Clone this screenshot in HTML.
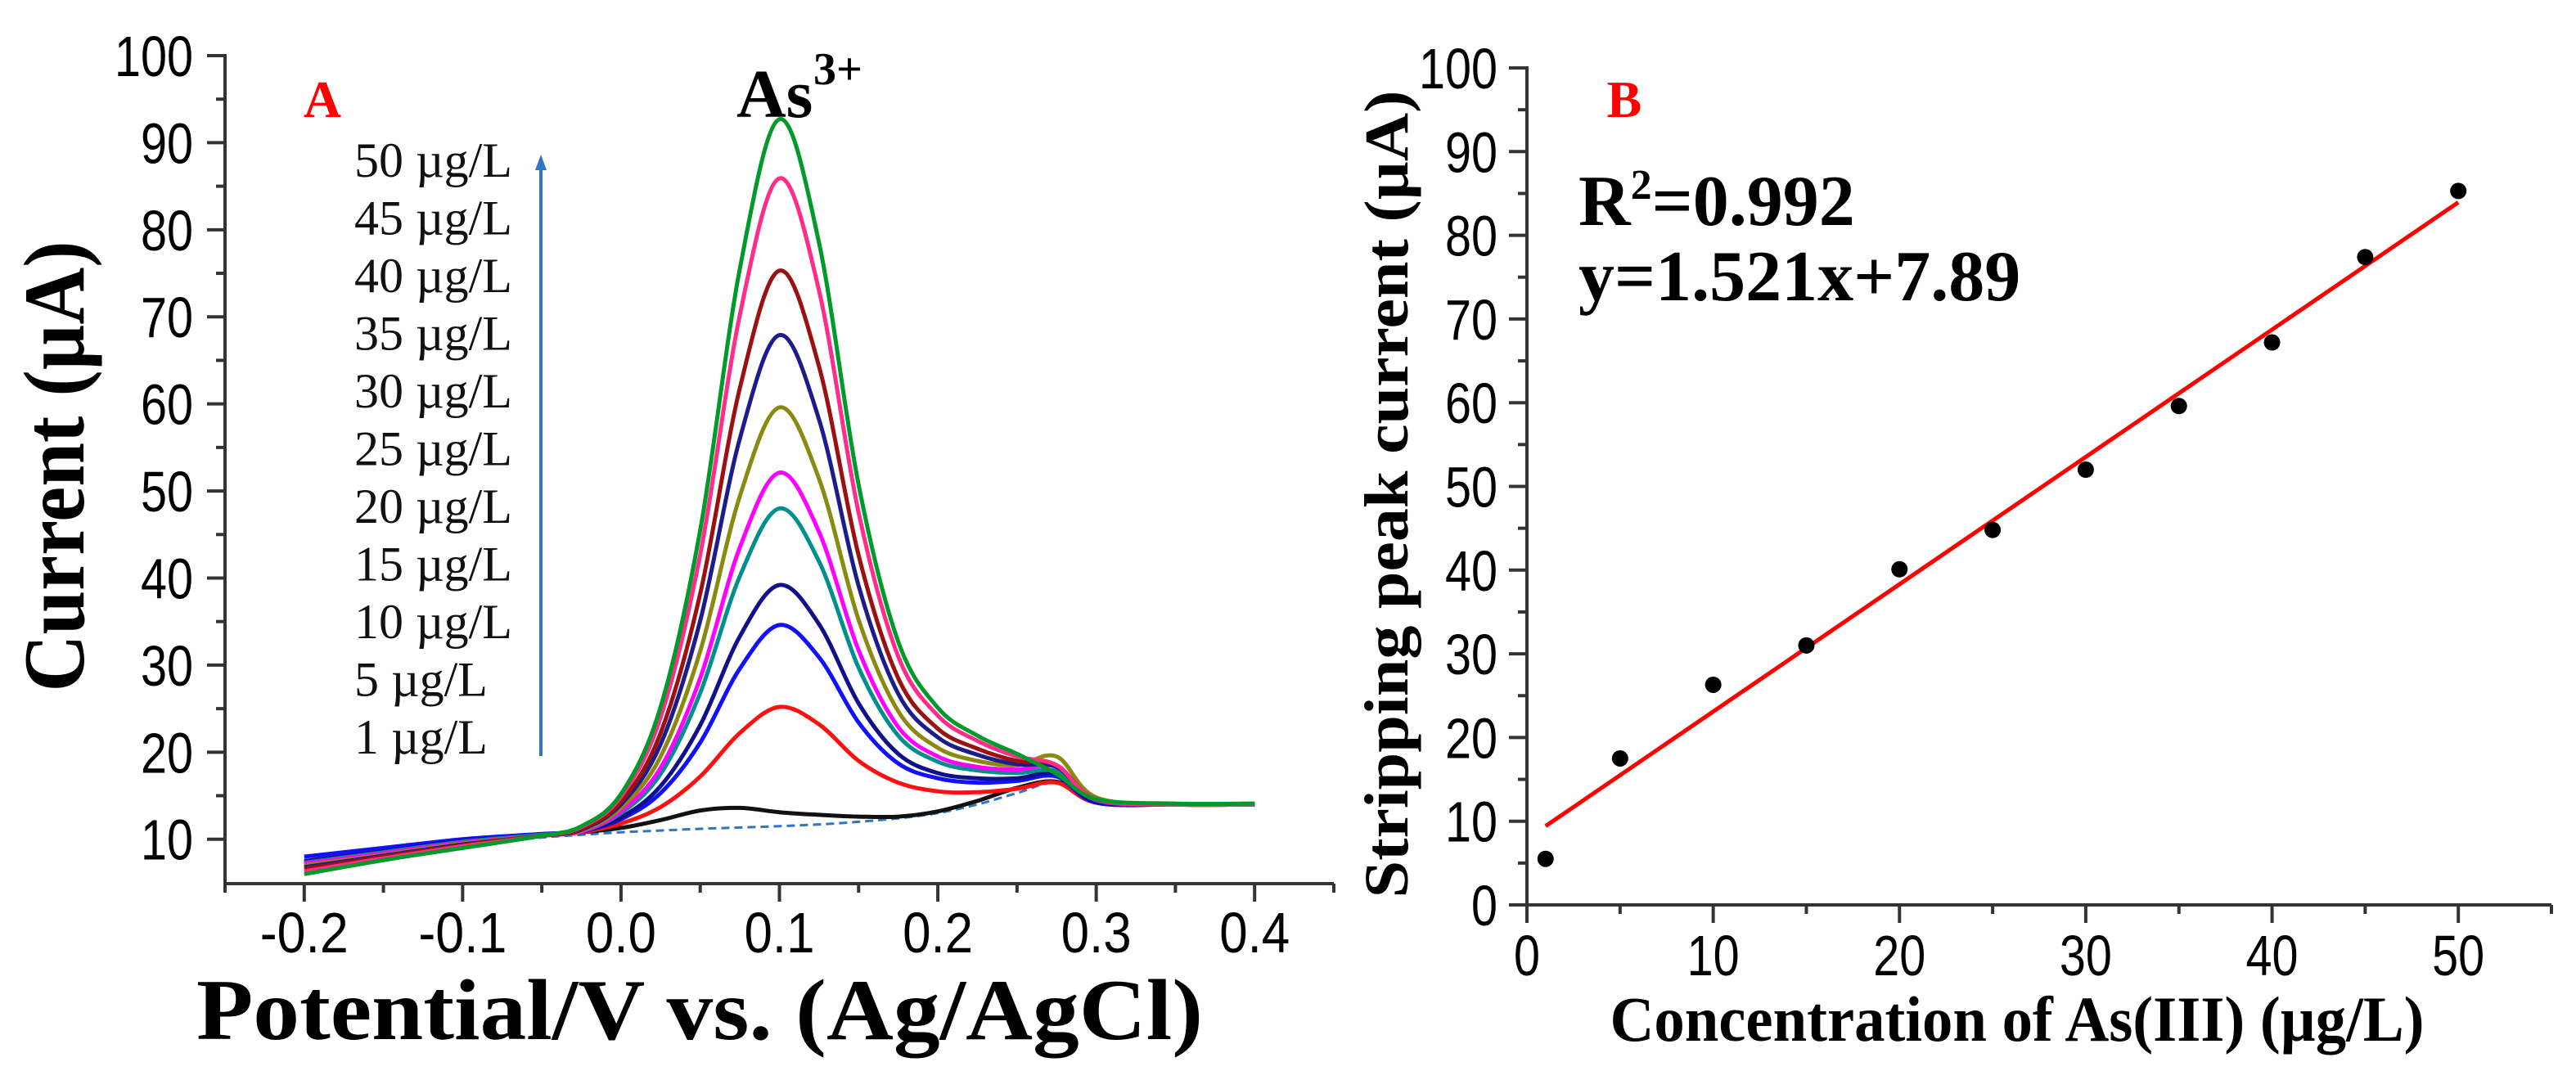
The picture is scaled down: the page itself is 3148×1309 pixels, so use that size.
<!DOCTYPE html>
<html><head><meta charset="utf-8"><style>
html,body{margin:0;padding:0;background:#fff;}
svg{display:block;}
</style></head><body>
<svg id="fig" width="3148" height="1309" viewBox="0 0 3148 1309" xmlns="http://www.w3.org/2000/svg">
<rect x="0" y="0" width="3148" height="1309" fill="#fff"/>
<g id="panelA"></g>
<g id="panelB"></g>
</svg>
<script>
// ---------- Panel A data ----------
const potentials = [-0.2,-0.15,-0.1,-0.05,-0.025,0,0.025,0.05,0.075,0.1,0.125,0.15,0.175,0.2,0.225,0.25,0.275,0.3,0.35,0.4];
const concLabels = ["50 µg/L","45 µg/L","40 µg/L","35 µg/L","30 µg/L","25 µg/L","20 µg/L","15 µg/L","10 µg/L","5 µg/L","1 µg/L"];
const curveColors = ["#009a2a","#ff2d8a","#9b1010","#1c1c8c","#8a8a10","#ff00ff","#008f8f","#10108a","#1010ff","#ff1010","#111111"];
const c50 = [6,7.6,9,10.4,11.5,15.2,25.2,45.5,75.5,92.7,78.5,50.7,32.7,25.1,21.9,19.8,17.5,14.6,14.1,14.1];
const c45 = [6.3,7.8,9.2,10.4,11.4,14.9,24,42.7,70.2,85.9,73,47.5,31,24.2,21.3,19.5,18.5,14.6,14,14];
const c40 = [6.6,8,9.3,10.4,11.2,14.3,22.2,38.2,61.8,75.3,64.3,42.6,28.5,22.7,20.4,19,18.5,14.6,14,14];
const c35 = [6.8,8.1,9.4,10.4,11.1,14,20.9,35.1,56,67.9,58.2,39.1,26.7,21.7,19.7,18.6,18.3,14.6,14,14];
const c30 = [7,8.2,9.5,10.4,11,13.6,19.5,31.6,49.4,59.6,51.4,35.2,24.7,20.5,19,18.5,19.5,14.8,14,14];
const c25 = [7.2,8.4,9.6,10.4,10.9,13.2,18.2,28.5,43.5,52.1,45.3,31.7,22.9,19.5,18.3,18,18.3,14.5,14,14];
const c20 = [7.3,8.5,9.7,10.5,10.9,13,17.5,26.8,40.2,48,41.9,29.7,21.9,18.9,17.9,17.6,17.8,14.5,14,14];
const c15 = [7.5,8.6,9.8,10.5,10.9,12.5,16.1,23.1,33.3,39.2,34.7,25.6,19.8,17.6,17,17,17.5,14.3,14,14];
const c10 = [8,9,10,10.6,10.9,12.3,15.3,21.1,29.6,34.6,30.9,23.4,18.7,17,16.5,16.7,17.2,14.2,14,14];
const c5 = [7.4,8.5,9.6,10.4,10.8,11.8,13.7,17.2,22.2,25.2,23.2,19,16.5,15.5,15.4,15.8,16.5,14.2,14,14];
const c1 = [7.2,8.3,9.4,10.4,10.8,11.3,12.2,13.3,13.6,13.1,12.8,12.6,12.6,13.2,14.4,15.9,16.6,14.5,14,14];
const baselineA = [7,8.2,9.3,10.2,10.5,10.8,11,11.2,11.35,11.5,11.7,12,12.4,13,14,15.3,16.5,14.5,14,14];
const aYTicks = [10,20,30,40,50,60,70,80,90,100];
const aXTicks = [-0.2,-0.1,0.0,0.1,0.2,0.3,0.4];
const aXTickLabels = ["-0.2","-0.1","0.0","0.1","0.2","0.3","0.4"];

// ---------- Panel B data ----------
const concB = [1,5,10,15,20,25,30,35,40,45,50];
const peakB = [5.5,17.5,26.3,31,40.1,44.8,52,59.6,67.2,77.4,85.3];
const fitSlope = 1.521, fitIntercept = 7.89;
const bYTicks = [0,10,20,30,40,50,60,70,80,90,100];
const bXTicks = [0,10,20,30,40,50];

const NS = "http://www.w3.org/2000/svg";
function mk(parent, tag, attrs, text){
  const e = document.createElementNS(NS, tag);
  for (const k in attrs) e.setAttribute(k, attrs[k]);
  if (text !== undefined) e.textContent = text;
  parent.appendChild(e);
  return e;
}
function numWidth(s){ let w=0; for (const ch of s){ w += (ch==='.'?14:(ch==='-'?22:32)); } return w; }
const AXC = "#333";
const TICKFONT = 'Liberation Sans, sans-serif';

// ---------- Panel A ----------
const gA = document.getElementById('panelA');
const axA = {x0:275, x1:1630, vmin:-0.25, vmax:0.45, y0:1080, ymin:4.9, ymax:100, yTop:68};
const xA = v => axA.x0 + (v - axA.vmin) / (axA.vmax - axA.vmin) * (axA.x1 - axA.x0);
const yA = v => axA.y0 - (v - axA.ymin) / (axA.ymax - axA.ymin) * (axA.y0 - axA.yTop);

let e;
e = mk(gA,'line',{x1:axA.x0,y1:yA(100)-2,x2:axA.x0,y2:axA.y0,stroke:AXC,'stroke-width':4});
 
e = mk(gA,'line',{x1:axA.x0,y1:axA.y0,x2:axA.x1,y2:axA.y0,stroke:AXC,'stroke-width':4});
 
for (let v=10; v<=100; v+=5){
  const major = v%10===0;
  e = mk(gA,'line',{x1:axA.x0-(major?22:11),y1:yA(v),x2:axA.x0,y2:yA(v),stroke:AXC,'stroke-width':4});
   
}
aYTicks.forEach(v=>{
  const s=String(v);
  e = mk(gA,'text',{x:236,y:yA(v)+25,'text-anchor':'end','font-family':TICKFONT,'font-size':70,fill:'#000',textLength:numWidth(s),lengthAdjust:'spacingAndGlyphs'},s);
   
});
for (let i=-5;i<=9;i++){
  const v=i*0.05; const major = i%2===0;
  e = mk(gA,'line',{x1:xA(v),y1:axA.y0,x2:xA(v),y2:axA.y0+(major?22:11),stroke:AXC,'stroke-width':4});
   
}
aXTicks.forEach((v,i)=>{
  const s=aXTickLabels[i];
  e = mk(gA,'text',{x:xA(v),y:1164,'text-anchor':'middle','font-family':TICKFONT,'font-size':70,fill:'#000',textLength:numWidth(s)+8,lengthAdjust:'spacingAndGlyphs'},s);
   
});
e = mk(gA,'text',{x:855,y:1270,'text-anchor':'middle','font-family':'Liberation Serif, serif','font-size':106,'font-weight':'bold',textLength:1230,lengthAdjust:'spacingAndGlyphs'},'Potential/V vs. (Ag/AgCl)');
 
e = mk(gA,'text',{x:0,y:0,'text-anchor':'middle','font-family':'Liberation Serif, serif','font-size':106,'font-weight':'bold',textLength:551,lengthAdjust:'spacingAndGlyphs',transform:'translate(102,570) rotate(-90)'},'Current (µA)');
 
e = mk(gA,'text',{x:394,y:143,'text-anchor':'middle','font-family':'Liberation Serif, serif','font-size':64,'font-weight':'bold',fill:'#ff0000'},'A');
 
e = mk(gA,'text',{x:900,y:143,'font-family':'Liberation Serif, serif','font-size':84,'font-weight':'bold',fill:'#000'},'As');
 
e = mk(gA,'text',{x:994,y:103,'font-family':'Liberation Serif, serif','font-size':56,'font-weight':'bold',fill:'#000'},'3+');
 

concLabels.forEach((t,i)=>{
  e = mk(gA,'text',{x:433,y:216+i*70.5,'font-family':'Liberation Serif, serif','font-size':60,fill:'#111'},t);
   
});
e = mk(gA,'line',{x1:661,y1:205,x2:661,y2:924,stroke:'#2e75c6','stroke-width':4});
 
e = mk(gA,'polygon',{points:'661,189 654,208 668,208',fill:'#2e75c6'});
 

function smoothPath(xs, ys){
  const p = xs.map((x,i)=>[xA(x), yA(ys[i])]);
  let d = `M${p[0][0].toFixed(1)},${p[0][1].toFixed(1)}`;
  for (let i=0;i<p.length-1;i++){
    const p0=p[Math.max(0,i-1)], p1=p[i], p2=p[i+1], p3=p[Math.min(p.length-1,i+2)];
    const c1=[p1[0]+(p2[0]-p0[0])/6, p1[1]+(p2[1]-p0[1])/6];
    const c2=[p2[0]-(p3[0]-p1[0])/6, p2[1]-(p3[1]-p1[1])/6];
    d += ` C${c1[0].toFixed(1)},${c1[1].toFixed(1)} ${c2[0].toFixed(1)},${c2[1].toFixed(1)} ${p2[0].toFixed(1)},${p2[1].toFixed(1)}`;
  }
  return d;
}
e = mk(gA,'path',{d:smoothPath(potentials, baselineA),fill:'none',stroke:'#2e75c6','stroke-width':3,'stroke-dasharray':'10,6'});
 
const seriesA = [c1,c5,c10,c15,c20,c25,c30,c35,c40,c45,c50];
const seriesNames = ['1','5','10','15','20','25','30','35','40','45','50'];
seriesA.forEach((s,i)=>{
  const col = curveColors[10-i];
  e = mk(gA,'path',{d:smoothPath(potentials, s),fill:'none',stroke:col,'stroke-width':5,'stroke-linejoin':'round'});
   
});

// ---------- Panel B ----------
const gB = document.getElementById('panelB');
const axB = {x0:1866, x1:3118, xmin:0, xmax:55, y0:1106, ymin:0, ymax:100, yTop:83};
const xB = v => axB.x0 + (v-axB.xmin)/(axB.xmax-axB.xmin)*(axB.x1-axB.x0);
const yB = v => axB.y0 - (v-axB.ymin)/(axB.ymax-axB.ymin)*(axB.y0-axB.yTop);
e = mk(gB,'line',{x1:axB.x0,y1:axB.yTop-2,x2:axB.x0,y2:axB.y0+22,stroke:AXC,'stroke-width':4});
 
e = mk(gB,'line',{x1:axB.x0-22,y1:axB.y0,x2:axB.x1,y2:axB.y0,stroke:AXC,'stroke-width':4});
 
for (let v=0; v<=100; v+=5){
  const major = v%10===0;
  e = mk(gB,'line',{x1:axB.x0-(major?22:11),y1:yB(v),x2:axB.x0,y2:yB(v),stroke:AXC,'stroke-width':4});
   
}
bYTicks.forEach(v=>{
  const s=String(v);
  e = mk(gB,'text',{x:1830,y:yB(v)+25,'text-anchor':'end','font-family':TICKFONT,'font-size':70,fill:'#000',textLength:numWidth(s),lengthAdjust:'spacingAndGlyphs'},s);
   
});
for (let v=5; v<=55; v+=5){
  const major = v%10===0;
  e = mk(gB,'line',{x1:xB(v),y1:axB.y0,x2:xB(v),y2:axB.y0+(major?22:11),stroke:AXC,'stroke-width':4});
   
}
bXTicks.forEach(v=>{
  const s=String(v);
  e = mk(gB,'text',{x:xB(v),y:1192,'text-anchor':'middle','font-family':TICKFONT,'font-size':70,fill:'#000',textLength:numWidth(s),lengthAdjust:'spacingAndGlyphs'},s);
   
});
e = mk(gB,'text',{x:2465,y:1272,'text-anchor':'middle','font-family':'Liberation Serif, serif','font-size':78,'font-weight':'bold',textLength:995,lengthAdjust:'spacingAndGlyphs'},'Concentration of As(III) (µg/L)');
 
e = mk(gB,'text',{x:0,y:0,'text-anchor':'middle','font-family':'Liberation Serif, serif','font-size':76,'font-weight':'bold',textLength:987,lengthAdjust:'spacingAndGlyphs',transform:'translate(1720,604) rotate(-90)'},'Stripping peak current (µA)');
 
e = mk(gB,'text',{x:1985,y:143,'text-anchor':'middle','font-family':'Liberation Serif, serif','font-size':64,'font-weight':'bold',fill:'#ff0000'},'B');
 
const r2 = mk(gB,'text',{x:1929,y:275,'font-family':'Liberation Serif, serif','font-size':88,'font-weight':'bold',fill:'#000'});
 
mk(r2,'tspan',{},'R');
mk(r2,'tspan',{dy:-32,'font-size':52},'2');
mk(r2,'tspan',{dy:32},'=0.992');
e = mk(gB,'text',{x:1929,y:367,'font-family':'Liberation Serif, serif','font-size':88,'font-weight':'bold',fill:'#000'},'y=1.521x+7.89');
 

const fx0 = concB[0], fx1 = concB[concB.length-1];
e = mk(gB,'line',{x1:xB(fx0),y1:yB(fitSlope*fx0+fitIntercept),x2:xB(fx1),y2:yB(fitSlope*fx1+fitIntercept),stroke:'#ff0000','stroke-width':5});
 
concB.forEach((c,i)=>{
  e = mk(gB,'circle',{cx:xB(c),cy:yB(peakB[i]),r:10,fill:'#000'});
   
});
</script>
</body></html>
